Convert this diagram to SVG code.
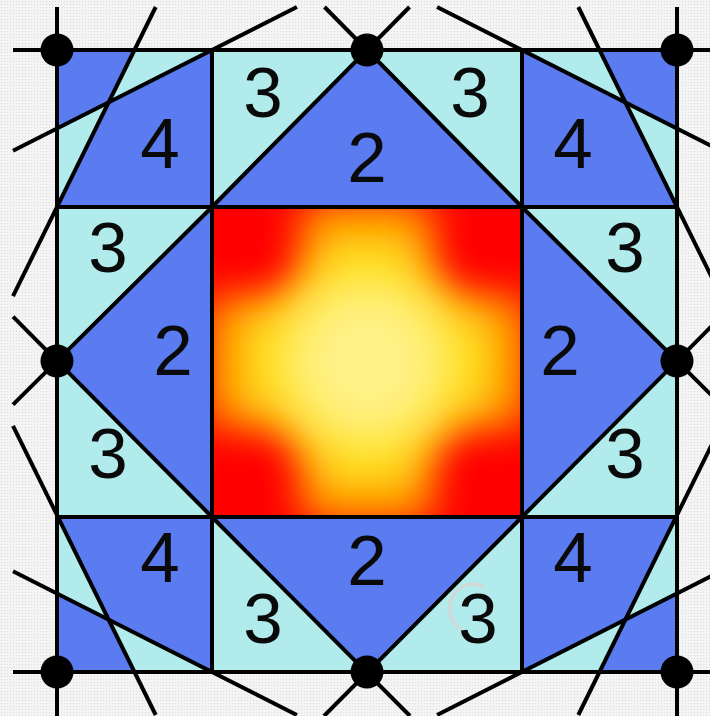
<svg xmlns="http://www.w3.org/2000/svg" width="710" height="716" viewBox="0 0 710 716">
<defs>
<pattern id="tex" width="3" height="3" patternUnits="userSpaceOnUse">
<rect width="3" height="3" fill="#f4f4f4"/>
<rect x="1" y="1" width="1" height="1" fill="#dcdcdc"/>
</pattern>
<clipPath id="innerClip"><rect x="212" y="207" width="310" height="310"/></clipPath>
<filter id="blurA" x="-50%" y="-50%" width="200%" height="200%"><feGaussianBlur stdDeviation="20"/></filter>
<filter id="blurB" x="-50%" y="-50%" width="200%" height="200%"><feGaussianBlur stdDeviation="22"/></filter>
<filter id="blurC" x="-50%" y="-50%" width="200%" height="200%"><feGaussianBlur stdDeviation="26"/></filter>
</defs>
<style>
.dark{fill:#5b7bf0}
.light{fill:#b1ebeb}
.ln{stroke:#000;stroke-width:4;fill:none;stroke-linecap:butt}
.lbl{font-family:"Liberation Sans",Arial,sans-serif;font-size:71px;fill:#0a0a0a;text-anchor:middle}
.dot{fill:#000}
</style>
<rect width="710" height="716" fill="url(#tex)"/>

<g id="cell-tl">
<rect class="dark" x="57" y="50" width="155" height="157"/>
<polygon class="light" points="134.5,50 212,50 108.7,102.3"/>
<polygon class="light" points="57,128.5 108.7,102.3 57,207"/>
<text class="lbl" x="160" y="168">4</text>
</g>
<g id="cell-tr">
<rect class="dark" x="522" y="50" width="155" height="157"/>
<polygon class="light" points="599.5,50 522,50 625.3,102.3"/>
<polygon class="light" points="677,128.5 625.3,102.3 677,207"/>
<text class="lbl" x="573" y="168">4</text>
</g>
<g id="cell-bl">
<rect class="dark" x="57" y="517" width="155" height="155"/>
<polygon class="light" points="134.5,672 212,672 108.7,619.7"/>
<polygon class="light" points="57,593.5 108.7,619.7 57,517"/>
<text class="lbl" x="160" y="582">4</text>
</g>
<g id="cell-br">
<rect class="dark" x="522" y="517" width="155" height="155"/>
<polygon class="light" points="599.5,672 522,672 625.3,619.7"/>
<polygon class="light" points="677,593.5 625.3,619.7 677,517"/>
<text class="lbl" x="573" y="582">4</text>
</g>

<g id="cell-top">
<rect class="light" x="212" y="50" width="310" height="157"/>
<polygon class="dark" points="212,207 367,50 522,207"/>
<text class="lbl" x="263" y="117">3</text>
<text class="lbl" x="470" y="117">3</text>
<text class="lbl" x="367" y="182">2</text>
</g>
<g id="cell-left">
<rect class="light" x="57" y="207" width="155" height="310"/>
<polygon class="dark" points="212,207 57,361 212,517"/>
<text class="lbl" x="108" y="272">3</text>
<text class="lbl" x="173" y="375">2</text>
<text class="lbl" x="108" y="478">3</text>
</g>
<g id="cell-right">
<rect class="light" x="522" y="207" width="155" height="310"/>
<polygon class="dark" points="522,207 677,361 522,517"/>
<text class="lbl" x="625" y="272">3</text>
<text class="lbl" x="560" y="375">2</text>
<text class="lbl" x="625" y="478">3</text>
</g>
<g id="cell-bottom">
<rect class="light" x="212" y="517" width="310" height="155"/>
<polygon class="dark" points="212,517 367,672 522,517"/>
<path d="M 484 587 A 22 23 0 1 0 462 630" fill="none" stroke="#d6d6d6" stroke-width="3"/>
<text class="lbl" x="367" y="585">2</text>
<text class="lbl" x="263" y="643">3</text>
<text class="lbl" x="478" y="643">3</text>
</g>

<g id="center">
<g clip-path="url(#innerClip)">
<rect x="212" y="207" width="310" height="310" fill="#ff0000"/>
<g fill="#ff9000" filter="url(#blurA)">
<circle cx="367" cy="362" r="110"/>
<rect x="302" y="200" width="130" height="324"/>
<rect x="205" y="297" width="324" height="130"/>
</g>
<g fill="#ffdc10" filter="url(#blurB)">
<circle cx="367" cy="362" r="96"/>
<rect x="317" y="235" width="100" height="254"/>
<rect x="240" y="312" width="254" height="100"/>
</g>
<circle cx="367" cy="362" r="84" fill="#fff287" filter="url(#blurC)"/>
</g>
</g>

<g id="connectors">
<line class="ln" x1="13" y1="50" x2="721" y2="50"/>
<line class="ln" x1="13" y1="672" x2="721" y2="672"/>
<line class="ln" x1="57" y1="7" x2="57" y2="716"/>
<line class="ln" x1="677" y1="7" x2="677" y2="716"/>
<line class="ln" x1="212" y1="50" x2="212" y2="672"/>
<line class="ln" x1="522" y1="50" x2="522" y2="672"/>
<line class="ln" x1="57" y1="207" x2="677" y2="207"/>
<line class="ln" x1="57" y1="517" x2="677" y2="517"/>
<line class="ln" x1="212" y1="207" x2="409.5" y2="7"/>
<line class="ln" x1="522" y1="207" x2="324.5" y2="7"/>
<line class="ln" x1="212" y1="207" x2="13" y2="404.7"/>
<line class="ln" x1="212" y1="517" x2="13" y2="316.7"/>
<line class="ln" x1="522" y1="207" x2="721" y2="404.7"/>
<line class="ln" x1="522" y1="517" x2="721" y2="316.7"/>
<line class="ln" x1="212" y1="517" x2="410" y2="716"/>
<line class="ln" x1="522" y1="517" x2="324" y2="716"/>
<line class="ln" x1="13" y1="150.8" x2="296.9" y2="7"/>
<line class="ln" x1="155.7" y1="7" x2="13" y2="296.1"/>
<line class="ln" x1="721" y1="150.8" x2="437.1" y2="7"/>
<line class="ln" x1="578.3" y1="7" x2="721" y2="296.1"/>
<line class="ln" x1="13" y1="571.2" x2="296.9" y2="715"/>
<line class="ln" x1="155.7" y1="715" x2="13" y2="425.9"/>
<line class="ln" x1="721" y1="571.2" x2="437.1" y2="715"/>
<line class="ln" x1="578.3" y1="715" x2="721" y2="425.9"/>
</g>

<g id="dots">
<circle class="dot" cx="57" cy="50" r="16.5"/>
<circle class="dot" cx="367" cy="50" r="16.5"/>
<circle class="dot" cx="677" cy="50" r="16.5"/>
<circle class="dot" cx="57" cy="361" r="16.5"/>
<circle class="dot" cx="677" cy="361" r="16.5"/>
<circle class="dot" cx="57" cy="672" r="16.5"/>
<circle class="dot" cx="367" cy="672" r="16.5"/>
<circle class="dot" cx="677" cy="672" r="16.5"/>
</g>
</svg>
